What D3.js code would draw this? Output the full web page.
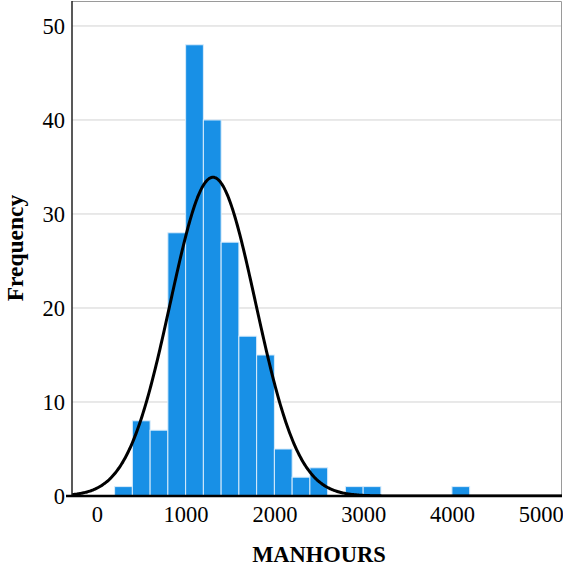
<!DOCTYPE html>
<html>
<head>
<meta charset="utf-8">
<script src="https://cdn.jsdelivr.net/npm/d3@7"></script>
<style>
  html, body { margin: 0; padding: 0; background: #fff; }
  svg { display: block; }
</style>
</head>
<body>
<svg id="chart" width="563" height="571"></svg>
<script>
// Histogram bins of MANHOURS (lower edge, width 200) and their counts
const binStarts = [200, 400, 600, 800, 1000, 1200, 1400, 1600, 1800, 2000, 2200, 2400, 2600, 2800, 3000, 4000];
const binCounts = [1, 8, 7, 28, 48, 40, 27, 17, 15, 5, 2, 3, 0, 1, 1, 1];
const binWidth = 200;

// Fitted normal curve parameters
const fitMean = 1308;
const fitSD = 480;

// Axis ticks
const xTicks = [0, 1000, 2000, 3000, 4000, 5000];
const yTicks = [0, 10, 20, 30, 40, 50];

const svg = d3.select("#chart");
const plotLeft = 72, plotRight = 562, plotTop = 1, plotBottom = 496;

const x = d3.scaleLinear().domain([-280, 5240]).range([plotLeft, plotRight]);
const y = d3.scaleLinear().domain([0, 52.55]).range([plotBottom, plotTop + 1]);

const N = d3.sum(binCounts);

// Gridlines
svg.append("g")
  .selectAll("line")
  .data(yTicks.filter(d => d > 0))
  .join("line")
  .attr("x1", plotLeft).attr("x2", plotRight)
  .attr("y1", d => y(d)).attr("y2", d => y(d))
  .attr("stroke", "#d2d2d2").attr("stroke-width", 1);

// Frame (top and right)
svg.append("path")
  .attr("d", `M${plotLeft},${plotTop + 0.5}H${plotRight - 0.5}V${plotBottom}`)
  .attr("fill", "none").attr("stroke", "#9a9a9a").attr("stroke-width", 1);

// Bars
const bars = binStarts.map((s, i) => ({ x0: s, x1: s + binWidth, n: binCounts[i] })).filter(d => d.n > 0);
svg.append("g")
  .selectAll("rect")
  .data(bars)
  .join("rect")
  .attr("x", d => x(d.x0))
  .attr("width", d => x(d.x1) - x(d.x0))
  .attr("y", d => y(d.n))
  .attr("height", d => y(0) - y(d.n))
  .attr("fill", "#1890e6")
  .attr("stroke", "#d9ecfb")
  .attr("stroke-width", 1);

// Normal curve scaled to counts
const curvePts = d3.range(-280, 5241, 10).map(v => {
  const z = (v - fitMean) / fitSD;
  return [v, N * binWidth / (fitSD * Math.sqrt(2 * Math.PI)) * Math.exp(-0.5 * z * z)];
});
svg.append("clipPath").attr("id", "plotClip")
  .append("rect").attr("x", plotLeft).attr("y", plotTop)
  .attr("width", plotRight - plotLeft).attr("height", plotBottom - plotTop);
svg.append("path")
  .datum(curvePts)
  .attr("clip-path", "url(#plotClip)")
  .attr("fill", "none")
  .attr("stroke", "#000")
  .attr("stroke-width", 3)
  .attr("d", d3.line().x(d => x(d[0])).y(d => y(d[1])).curve(d3.curveBasis));

// Axes
const fontFam = "'Liberation Serif', 'Times New Roman', serif";
const yAxis = svg.append("g")
  .attr("transform", `translate(${plotLeft},0)`)
  .call(d3.axisLeft(y).tickValues(yTicks).tickSize(0).tickPadding(7).tickFormat(d3.format("d")));
yAxis.select(".domain").attr("stroke", "#222").attr("stroke-width", 1.5).attr("d", `M0,${plotTop}V${plotBottom}`);
yAxis.selectAll("text").attr("font-family", fontFam).attr("font-size", 22.5).attr("fill", "#000");

const xAxis = svg.append("g")
  .attr("transform", `translate(0,${plotBottom})`)
  .call(d3.axisBottom(x).tickValues(xTicks).tickSize(0).tickPadding(10).tickFormat(d3.format("d")));
xAxis.select(".domain").attr("stroke", "#000").attr("stroke-width", 2.5).attr("d", `M${plotLeft - 6},0H${plotRight}`);
xAxis.selectAll("text").attr("font-family", fontFam).attr("font-size", 22.5).attr("fill", "#000");

// Axis titles
svg.append("text")
  .attr("x", 319).attr("y", 562)
  .attr("text-anchor", "middle")
  .attr("font-family", fontFam).attr("font-weight", "bold").attr("font-size", 22.5)
  .text("MANHOURS");

svg.append("text")
  .attr("transform", "translate(22.5,248) rotate(-90)")
  .attr("text-anchor", "middle")
  .attr("font-family", fontFam).attr("font-weight", "bold").attr("font-size", 23.5)
  .text("Frequency");
</script>
</body>
</html>
